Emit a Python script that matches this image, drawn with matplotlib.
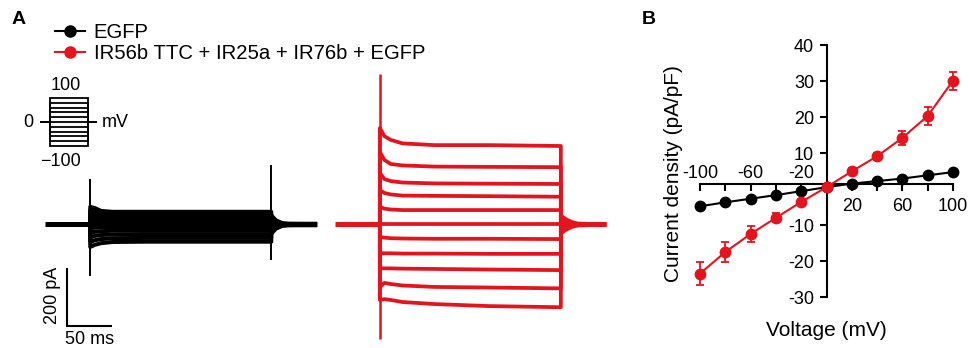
import matplotlib
matplotlib.use('Agg')
import matplotlib.pyplot as plt
from matplotlib.lines import Line2D

plt.rcParams['font.family'] = ['Liberation Sans', 'DejaVu Sans']

W, H = 969, 348
BLACK = '#000000'
RED = '#e5131d'

# ---------------- IV data (panel B) ----------------
voltage = [-100, -80, -60, -40, -20, 0, 20, 40, 60, 80, 100]
egfp_mean = [-4.8, -3.7, -2.7, -1.7, -0.6, 0.5, 1.5, 2.2, 2.9, 3.8, 4.7]
egfp_sem = [0.4, 0.3, 0.3, 0.2, 0.2, 0.1, 0.2, 0.2, 0.3, 0.3, 0.4]
ir_mean = [-23.5, -17.5, -12.5, -8.0, -3.6, 0.5, 4.9, 9.1, 14.2, 20.3, 30.1]
ir_sem = [3.1, 2.8, 2.2, 1.2, 0.8, 0.3, 0.8, 1.0, 1.9, 2.6, 2.5]
yticks_B = [-30, -20, -10, 10, 20, 30, 40]
xticks_B = [-100, -80, -60, -40, -20, 20, 40, 60, 80, 100]
xlabels_pos = [20, 60, 100]
xlabels_neg = [-100, -60, -20]

# ---------------- trace data (panel A) ----------------
step_voltages = [100, 80, 60, 40, 20, 0, -20, -40, -60, -80, -100]
pre_ms, step_ms, post_ms = 50, 200, 50
trace_t = [0, 5, 12, 25, 60, 120, 200]          # ms after step onset
egfp_trace_pA = [
    [59, 55, 45, 42, 42, 42, 42],
    [47, 44, 36, 33, 33, 33, 33],
    [35, 33, 27, 25, 25, 25, 25],
    [24, 22, 18, 17, 17, 17, 17],
    [11, 10, 9, 8, 8, 8, 8],
    [0, 0, 0, 0, 0, 0, 0],
    [-14, -13, -12, -11, -11, -11, -11],
    [-30, -27, -25, -23, -23, -23, -23],
    [-46, -41, -38, -36, -35, -35, -35],
    [-62, -56, -52, -49, -48, -48, -48],
    [-79, -72, -66, -62, -61, -61, -61],
]
ir_trace_pA = [
    [331, 303, 290, 278, 272, 272, 269],
    [248, 221, 207, 202, 198, 197, 196],
    [176, 155, 148, 143, 140, 139, 138],
    [117, 107, 102, 98, 97, 96, 94],
    [59, 53, 50, 48, 48, 48, 48],
    [0, 0, 0, 0, 0, 0, 0],
    [-45, -47, -49, -50, -51, -51, -52],
    [-100, -101, -101, -102, -102, -103, -103],
    [-152, -153, -153, -154, -155, -157, -159],
    [-217, -203, -207, -212, -217, -219, -222],
    [-262, -259, -262, -269, -276, -283, -287],
]
egfp_on_spike = (155, -179)
egfp_off_spike = (203, -124)
ir_on_spike = (517, -397)
tail_t = [0, 6, 12, 18, 30, 50]                 # ms after step offset
egfp_tail_pA = [40, 20, 12, 10, 9.6, 9.6]
ir_tail_pA = [38, 24, 15, 10, 8.6, 8.6]
scale_pA, scale_ms = 200, 50

fig = plt.figure(figsize=(W / 100, H / 100), dpi=100)

# ---------------- panel A: traces ----------------
px_ms, px_pA = 0.905, 0.29
x0_px, base_px = 45, 224
axA = fig.add_axes([0, 0, 640 / W, 1])
axA.set_xlim(-x0_px / px_ms, (640 - x0_px) / px_ms)
axA.set_ylim(-(H - base_px) / px_pA, base_px / px_pA)
axA.axis('off')


def draw_family(t_start, traces, color, on_spike, off_spike, tail, spike_lw, trace_lw):
    t_on = t_start + pre_ms
    t_off = t_on + step_ms
    t_end = t_off + post_ms
    axA.plot([t_start, t_on], [0, 0], color=color, lw=3.6, solid_capstyle='butt')
    axA.plot([t_off, t_end], [0, 0], color=color, lw=3.6, solid_capstyle='butt')
    for lev in traces:
        ts = [t_on] + [t_on + tt for tt in trace_t] + [t_off]
        ys = [0] + list(lev) + [0]
        axA.plot(ts, ys, color=color, lw=trace_lw, solid_joinstyle='round')
    axA.vlines(t_on, on_spike[1], on_spike[0], color=color, lw=spike_lw)
    if off_spike is not None:
        axA.vlines(t_off, off_spike[1], off_spike[0], color=color, lw=spike_lw)
    tt = [t_off + x for x in tail_t]
    axA.fill_between(tt, [-e for e in tail], tail, color=color, lw=0)


draw_family(0, egfp_trace_pA, BLACK, egfp_on_spike, egfp_off_spike, egfp_tail_pA, 1.4, 2.9)
draw_family(320, ir_trace_pA, RED, ir_on_spike, None, ir_tail_pA, 1.8, 2.7)

# scale bar
sb_t = (67 - x0_px) / px_ms
sb_I = (base_px - 325.5) / px_pA
axA.plot([sb_t, sb_t, sb_t + scale_ms], [sb_I + scale_pA, sb_I, sb_I],
         color=BLACK, lw=1.5, solid_joinstyle='miter', solid_capstyle='butt')


def fpx(x, y):
    return x / W, 1 - y / H


fig.text(*fpx(52.5, 295), f'{scale_pA} pA', rotation=90, ha='center', va='center', fontsize=13)
fig.text(*fpx(90, 347.5), f'{scale_ms} ms', ha='center', va='bottom', fontsize=13)

# voltage protocol inset
axP = fig.add_axes([40 / W, 1 - 146 / H, 57 / W, 48 / H])
axP.set_xlim(0, pre_ms + step_ms + post_ms)
axP.set_ylim(-100, 100)
axP.axis('off')
for v in step_voltages:
    axP.plot([0, pre_ms, pre_ms, pre_ms + step_ms, pre_ms + step_ms, pre_ms + step_ms + post_ms],
             [0, 0, v, v, 0, 0], color=BLACK, lw=1.3, clip_on=False,
             solid_joinstyle='miter', solid_capstyle='butt')
fig.text(*fpx(81, 85.7), '100', ha='right', va='center', fontsize=13)
fig.text(*fpx(81, 161), '\u2212100', ha='right', va='center', fontsize=13)
fig.text(*fpx(28, 122), '0', ha='center', va='center', fontsize=13)
fig.text(*fpx(102, 122), 'mV', ha='left', va='center', fontsize=13)

# legend
handles = [Line2D([0], [0], color=BLACK, marker='o', ms=8, lw=1.5),
           Line2D([0], [0], color=RED, marker='o', ms=8, lw=1.5)]
fig.legend(handles, ['EGFP', 'IR56b TTC + IR25a + IR76b + EGFP'],
           loc='upper left', bbox_to_anchor=fpx(55, 23), frameon=False,
           fontsize=14.6, handlelength=1.5, handletextpad=0.4, borderpad=0,
           borderaxespad=0, labelspacing=0.1)

fig.text(*fpx(19, 19.5), 'A', ha='center', va='center', fontsize=14, fontweight='bold')
fig.text(*fpx(648.5, 19.5), 'B', ha='center', va='center', fontsize=14, fontweight='bold')

# ---------------- panel B: IV ----------------
axis_cross = 1.3
axB = fig.add_axes([700 / W, 1 - 297 / H, 253 / W, 252 / H])
axB.set_xlim(-100, 100)
axB.set_ylim(-30, 40)
for mean, sem, col in [(egfp_mean, egfp_sem, BLACK), (ir_mean, ir_sem, RED)]:
    cont = axB.errorbar(voltage, mean, yerr=sem, color=col, marker='o', ms=7.5, lw=1.5,
                        capsize=3.2, elinewidth=1.3, capthick=1.3, zorder=3)
    for art in cont.get_children():
        art.set_clip_on(False)

for s in ['top', 'right']:
    axB.spines[s].set_visible(False)
axB.spines['left'].set_position(('data', 0))
axB.spines['bottom'].set_position(('data', axis_cross))
for s in ['left', 'bottom']:
    axB.spines[s].set_linewidth(1.5)
axB.patch.set_alpha(0)

axB.set_yticks(yticks_B)
axB.set_yticklabels([str(v) for v in yticks_B])
axB.set_xticks(xticks_B)
axB.set_xticklabels([str(v) if v in xlabels_pos else '' for v in xticks_B])
axB.tick_params(axis='both', direction='out', length=5, width=1.5, labelsize=13)
axB.tick_params(axis='y', pad=4)
axB.tick_params(axis='x', pad=5)

sec = axB.secondary_xaxis((axis_cross + 30) / 70)
sec.set_alignment('top')
sec.set_xticks(xlabels_neg)
sec.set_xticklabels([str(v) for v in xlabels_neg])
sec.tick_params(length=0, pad=1.5, labelsize=13)
for s in sec.spines.values():
    s.set_visible(False)

axB.set_ylabel('Current density (pA/pF)', fontsize=15)
axB.yaxis.set_label_coords(-0.067, 0.488)
axB.set_xlabel('Voltage (mV)', fontsize=15)
axB.xaxis.set_label_coords(0.5, -0.095)

fig.savefig('out.png', dpi=100)
